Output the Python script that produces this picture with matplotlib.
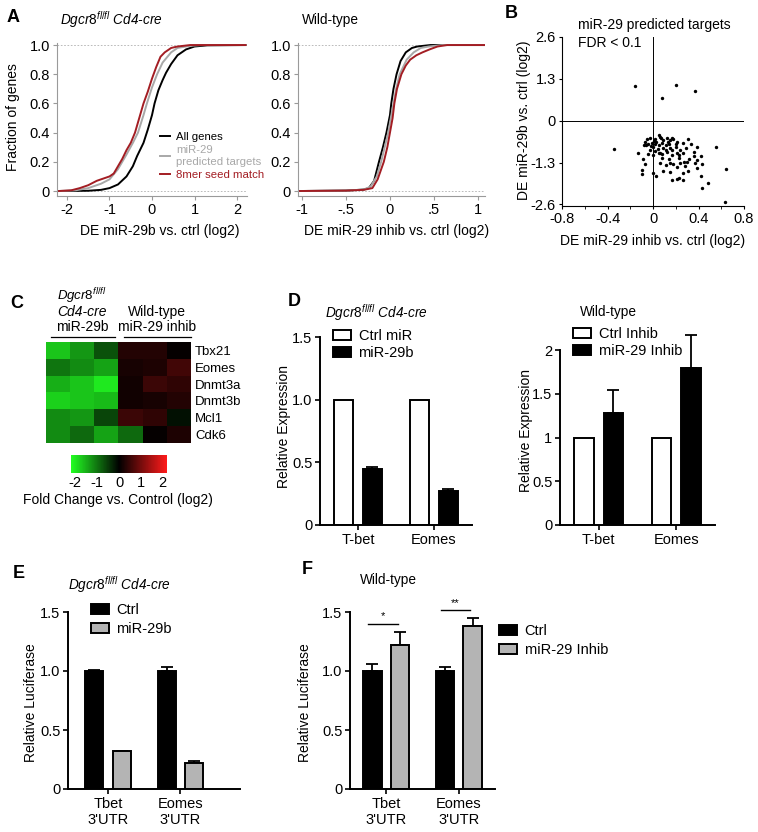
import matplotlib
matplotlib.use('Agg')
import matplotlib.pyplot as plt
import numpy as np
from matplotlib.colors import LinearSegmentedColormap
from matplotlib.patches import Patch
from matplotlib.lines import Line2D

plt.rcParams['font.family'] = ['Liberation Sans', 'DejaVu Sans']
plt.rcParams['mathtext.fontset'] = 'custom'
plt.rcParams['mathtext.rm'] = 'Liberation Sans'
plt.rcParams['mathtext.it'] = 'Liberation Sans:italic'
plt.rcParams['axes.unicode_minus'] = False

# ---- panel A: cumulative distributions ----
# Dgcr8 fl/fl Cd4-cre, miR-29b vs ctrl
a1_all_x = [-2.2, -1.5, -1.2, -1.0, -0.8, -0.6, -0.45, -0.35, -0.2, -0.1, 0.0, 0.06, 0.15, 0.25, 0.33, 0.45, 0.6, 0.8, 1.0, 1.3, 2.2]
a1_all_y = [0, 0.002, 0.008, 0.02, 0.045, 0.1, 0.17, 0.24, 0.33, 0.42, 0.52, 0.6, 0.69, 0.76, 0.81, 0.87, 0.93, 0.97, 0.99, 0.998, 1.0]
a1_tgt_x = [-2.2, -1.8, -1.5, -1.2, -1.0, -0.8, -0.6, -0.45, -0.33, -0.2, -0.12, 0.0, 0.12, 0.25, 0.45, 0.6, 0.9, 1.2, 2.2]
a1_tgt_y = [0, 0.005, 0.02, 0.05, 0.08, 0.15, 0.25, 0.33, 0.4, 0.52, 0.6, 0.71, 0.8, 0.88, 0.95, 0.98, 0.995, 1.0, 1.0]
a1_8mer_x = [-2.2, -1.9, -1.7, -1.5, -1.3, -1.1, -1.0, -0.9, -0.8, -0.7, -0.6, -0.5, -0.4, -0.3, -0.2, -0.1, 0.0, 0.1, 0.2, 0.3, 0.45, 0.6, 0.9, 2.2]
a1_8mer_y = [0, 0.005, 0.02, 0.04, 0.07, 0.09, 0.1, 0.12, 0.17, 0.22, 0.28, 0.33, 0.4, 0.5, 0.6, 0.68, 0.77, 0.85, 0.92, 0.95, 0.98, 0.99, 1.0, 1.0]

# wild-type, miR-29 inhibitor vs ctrl
a2_all_x = [-1.05, -0.5, -0.3, -0.24, -0.18, -0.125, -0.08, -0.04, 0.0, 0.015, 0.04, 0.075, 0.12, 0.18, 0.25, 0.31, 0.46, 1.08]
a2_all_y = [0, 0.003, 0.01, 0.02, 0.07, 0.2, 0.3, 0.4, 0.52, 0.6, 0.7, 0.8, 0.89, 0.95, 0.98, 0.99, 1.0, 1.0]
a2_tgt_x = [-1.05, -0.5, -0.3, -0.22, -0.15, -0.1, -0.06, -0.02, 0.01, 0.04, 0.07, 0.11, 0.19, 0.27, 0.35, 0.44, 0.6, 1.08]
a2_tgt_y = [0, 0.003, 0.01, 0.03, 0.1, 0.2, 0.3, 0.4, 0.5, 0.6, 0.7, 0.8, 0.9, 0.95, 0.98, 0.99, 1.0, 1.0]
a2_8mer_x = [-1.05, -0.5, -0.3, -0.2, -0.14, -0.07, -0.03, 0.0, 0.03, 0.05, 0.08, 0.13, 0.18, 0.23, 0.3, 0.37, 0.45, 0.54, 0.65, 1.08]
a2_8mer_y = [0, 0.003, 0.008, 0.02, 0.08, 0.2, 0.3, 0.4, 0.5, 0.6, 0.7, 0.8, 0.86, 0.9, 0.93, 0.95, 0.97, 0.99, 1.0, 1.0]

# ---- panel B: scatter of predicted targets ----
b_x = [-0.03, 0.02, 0.05, 0.06, 0.09, 0.12, 0.15, 0.18, -0.07, -0.04, -0.01, 0.03, 0.08, 0.11, 0.14, 0.17,
       0.21, 0.31, -0.06, 0.0, 0.05, 0.09, 0.15, 0.2, 0.24, 0.29, 0.33, 0.39, 0.55, -0.03, 0.02, 0.06, 0.12,
       0.21, 0.23, 0.26, 0.36, 0.42, -0.13, -0.04, 0.0, 0.08, 0.17, 0.36, 0.39, -0.09, 0.06, 0.15, 0.18,
       0.24, 0.27, 0.3, 0.37, 0.43, -0.07, 0.11, 0.09, 0.21, -0.1, -0.1, 0.0, 0.03, 0.15, 0.26, 0.31, 0.39,
       0.42, 0.64, 0.17, 0.21, 0.23, 0.26, 0.48, 0.43, 0.63, -0.34,
       0.01, 0.07, 0.13, -0.05, 0.04, 0.11, 0.2, 0.26, 0.02, 0.17, -0.02, 0.23, 0.32, 0.08, 0.28, -0.08, 0.05, 0.14,
       -0.16, 0.08, 0.2, 0.37]
b_y = [-0.53, -0.56, -0.45, -0.5, -0.59, -0.53, -0.61, -0.56, -0.66, -0.71, -0.69, -0.66, -0.69, -0.76, -0.71, -0.53,
       -0.66, -0.56, -0.76, -0.81, -0.76, -0.86, -0.86, -0.81, -0.91, -0.86, -0.73, -0.83, -0.83, -0.91, -0.93, -0.99, -0.96,
       -0.99, -1.06, -1.01, -0.96, -1.11, -1.01, -1.03, -1.06, -1.03, -1.06, -1.09, -1.23, -1.19, -1.31, -1.31, -1.36,
       -1.31, -1.29, -1.29, -1.31, -1.36, -1.36, -1.39, -1.57, -1.44, -1.54, -1.67, -1.62, -1.72, -1.6, -1.62, -1.57, -1.47,
       -1.72, -1.49, -1.84, -1.8, -1.77, -1.84, -1.94, -2.1, -2.53, -0.89,
       -0.62, -0.55, -0.65, -0.58, -0.88, -0.9, -0.72, -0.68, -0.72, -0.92, -0.8, -1.17, -1.2, -1.15, -1.42, -0.75, -1.0, -1.2,
       1.09, 0.71, 1.11, 0.93]

# ---- panel C: heatmap (log2 fold change) ----
c_genes = ['Tbx21', 'Eomes', 'Dnmt3a', 'Dnmt3b', 'Mcl1', 'Cdk6']
c_vals = [[-1.7, -1.3, -0.7, 0.3, 0.3, 0.05],
          [-1.0, -1.2, -1.4, 0.2, 0.25, 0.55],
          [-1.5, -1.7, -2.0, 0.15, 0.5, 0.4],
          [-1.8, -1.7, -1.6, 0.15, 0.2, 0.3],
          [-1.2, -1.3, -0.6, 0.5, 0.4, -0.15],
          [-1.2, -0.9, -1.4, -0.9, 0.05, 0.25]]

# ---- panel D: qPCR relative expression ----
d_genes = ['T-bet', 'Eomes']
d1_ctrl = [1.0, 1.0]
d1_mir = [0.45, 0.27]
d1_mir_err = [0.01, 0.02]
d2_ctrl = [1.0, 1.0]
d2_inh = [1.28, 1.79]
d2_inh_err = [0.26, 0.38]

# ---- panels E/F: luciferase ----
lu_labels = ["Tbet\n3'UTR", "Eomes\n3'UTR"]
e_ctrl = [1.0, 1.0]
e_ctrl_err = [0.01, 0.03]
e_mir = [0.32, 0.22]
e_mir_err = [0.005, 0.02]
f_ctrl = [1.0, 1.0]
f_ctrl_err = [0.06, 0.03]
f_inh = [1.22, 1.38]
f_inh_err = [0.11, 0.07]
f_sig = ['*', '**']
f_sig_y = [1.40, 1.515]

W, H = 758, 832
fig = plt.figure(figsize=(W / 100, H / 100), dpi=100)


def add_ax(l, t, r, b):
    return fig.add_axes([l / W, 1 - b / H, (r - l) / W, (b - t) / H])


def ftext(x, y, s, **kw):
    kw.setdefault('va', 'center')
    fig.text(x / W, 1 - y / H, s, **kw)


dgcr8 = r'$\mathit{Dgcr8^{fl/fl}}$ Cd4-cre'
RED = '#a31d23'
GRAY = '#a8a8a8'
BARGRAY = '#b4b4b4'
TICK = 10.5
LAB = 10


def style_cdf(ax):
    for s in ['top', 'right']:
        ax.spines[s].set_visible(False)
    for s in ['left', 'bottom']:
        ax.spines[s].set_color('#9a9a9a')
        ax.spines[s].set_linewidth(0.8)
    ax.axhline(0, color='#b0b0b0', lw=0.6, ls=(0, (2, 2)), zorder=0)
    ax.axhline(1, color='#b0b0b0', lw=0.6, ls=(0, (2, 2)), zorder=0)
    ax.set_ylim(-0.034, 1.014)
    ax.set_yticks([0, 0.2, 0.4, 0.6, 0.8, 1.0])
    ax.set_yticklabels(['0', '0.2', '0.4', '0.6', '0.8', '1.0'])
    ax.tick_params(direction='out', length=3, color='#9a9a9a', labelsize=TICK, pad=2)


# panel A left
ax = add_ax(57, 43, 247, 196)
style_cdf(ax)
ax.plot(a1_all_x, a1_all_y, color='black', lw=1.4, label='All genes')
ax.plot(a1_tgt_x, a1_tgt_y, color=GRAY, lw=1.4, label='miR-29\npredicted targets')
ax.plot(a1_8mer_x, a1_8mer_y, color=RED, lw=1.4, label='8mer seed match')
ax.set_xlim(-2.235, 2.235)
ax.set_xticks([-2, -1, 0, 1, 2])
leg = ax.legend(loc='upper left', bbox_to_anchor=((160 - 57) / 190, (196 - 132) / 153), frameon=False,
                fontsize=8.2, handlelength=0.9, handletextpad=0.5, borderpad=0, borderaxespad=0,
                labelspacing=0.3, labelcolor='linecolor')

# panel A right
ax = add_ax(298, 43, 485, 196)
style_cdf(ax)
ax.plot(a2_all_x, a2_all_y, color='black', lw=1.4)
ax.plot(a2_tgt_x, a2_tgt_y, color=GRAY, lw=1.4)
ax.plot(a2_8mer_x, a2_8mer_y, color=RED, lw=1.4)
ax.set_xlim(-1.045, 1.08)
ax.set_xticks([-1, -0.5, 0, 0.5, 1])
ax.set_xticklabels(['-1', '-.5', '0', '.5', '1'])

ftext(7, 18, 'A', fontsize=13, fontweight='bold')
ftext(60, 20, dgcr8, style='italic', fontsize=9.8)
ftext(302, 20, 'Wild-type', fontsize=9.8)
ftext(13, 117, 'Fraction of genes', rotation=90, ha='center', fontsize=LAB)
ftext(160, 231, 'DE miR-29b vs. ctrl (log2)', ha='center', fontsize=LAB)
ftext(397, 231, 'DE miR-29 inhib vs. ctrl (log2)', ha='center', fontsize=LAB)

# panel B
ax = add_ax(562, 37, 744, 206)
ax.scatter(b_x, b_y, s=6, color='black', linewidths=0)
ax.axhline(0, color='black', lw=0.7)
ax.axvline(0, color='black', lw=0.7)
ax.set_xlim(-0.8, 0.8)
ax.set_ylim(-2.65, 2.6)
ax.set_xticks([-0.8, -0.4, 0, 0.4, 0.8])
ax.set_xticklabels(['-0.8', '-0.4', '0', '0.4', '0.8'])
ax.set_xticks([-0.6, -0.2, 0.2, 0.6], minor=True)
ax.set_yticks([-2.6, -1.3, 0, 1.3, 2.6])
ax.set_yticklabels(['-2.6', '-1.3', '0', '1.3', '2.6'])
for s in ['top', 'right']:
    ax.spines[s].set_visible(False)
ax.tick_params(which='both', direction='out', length=2.5, labelsize=TICK, pad=2)
ftext(505, 13, 'B', fontsize=13, fontweight='bold')
ftext(578, 25, 'miR-29 predicted targets', fontsize=LAB)
ftext(578, 43, 'FDR < 0.1', fontsize=LAB)
ftext(524, 120, 'DE miR-29b vs. ctrl (log2)', rotation=90, ha='center', fontsize=LAB)
ftext(653, 241, 'DE miR-29 inhib vs. ctrl (log2)', ha='center', fontsize=LAB)

# panel C
cmap = LinearSegmentedColormap.from_list('gbr', ['#22ff22', '#000000', '#ff1a1a'])
ax = add_ax(46, 342, 191, 443)
im = ax.imshow(np.array(c_vals), cmap=cmap, vmin=-2.2, vmax=2.2, aspect='auto', interpolation='nearest')
ax.set_xticks([])
ax.yaxis.tick_right()
ax.set_yticks(range(len(c_genes)))
ax.set_yticklabels(c_genes, fontsize=9.5)
ax.tick_params(axis='y', length=0, pad=3)
for s in ax.spines.values():
    s.set_visible(False)
cax = add_ax(71, 455, 167, 473)
cb = fig.colorbar(im, cax=cax, orientation='horizontal', ticks=[-2, -1, 0, 1, 2])
cb.outline.set_visible(False)
cb.ax.tick_params(length=0, labelsize=TICK, pad=2)
ftext(118, 500, 'Fold Change vs. Control (log2)', ha='center', fontsize=LAB)
ftext(10, 303, 'C', fontsize=13, fontweight='bold')
ftext(82, 296, r'$\mathit{Dgcr8^{fl/fl}}$', ha='center', fontsize=9.5)
ftext(82, 312, 'Cd4-cre', ha='center', style='italic', fontsize=LAB)
ftext(82, 327, 'miR-29b', ha='center', fontsize=LAB)
ftext(157, 312, 'Wild-type', ha='center', fontsize=LAB)
ftext(157, 327, 'miR-29 inhib', ha='center', fontsize=LAB)
fig.add_artist(Line2D([51 / W, 115 / W], [1 - 337 / H, 1 - 337 / H], color='black', lw=0.9))
fig.add_artist(Line2D([124 / W, 191 / W], [1 - 337 / H, 1 - 337 / H], color='black', lw=0.9))


def style_bar(ax):
    for s in ['top', 'right']:
        ax.spines[s].set_visible(False)
    for s in ['left', 'bottom']:
        ax.spines[s].set_linewidth(1.4)
    ax.tick_params(direction='out', length=3.5, width=1.2, labelsize=TICK, pad=2)


def bars(ax, a, b, a_err, b_err, ca, cb_, off=0.19, w=0.25):
    x = np.arange(len(a))
    ax.bar(x - off, a, w, color=ca, edgecolor='black', lw=1.4, zorder=2)
    ax.bar(x + off, b, w, color=cb_, edgecolor='black', lw=1.4, zorder=2)
    if a_err is not None:
        ax.errorbar(x - off, a, yerr=[np.zeros(len(a)), a_err], fmt='none', ecolor='black',
                    elinewidth=1.3, capsize=4, capthick=1.3, zorder=1, clip_on=False)
    ax.errorbar(x + off, b, yerr=[np.zeros(len(b)), b_err], fmt='none', ecolor='black',
                elinewidth=1.3, capsize=4, capthick=1.3, zorder=1, clip_on=False)


def bar_legend(labels, colors, x, y, spacing):
    fig.legend(handles=[Patch(facecolor=c, edgecolor='black', lw=1.4, label=l) for l, c in zip(labels, colors)],
               loc='upper left', bbox_to_anchor=(x / W, 1 - y / H), frameon=False, fontsize=10.5,
               handlelength=1.25, handleheight=0.65, handletextpad=0.5, borderpad=0, borderaxespad=0,
               labelspacing=spacing)


# panel D left
ax = add_ax(320, 337, 472, 525)
style_bar(ax)
bars(ax, d1_ctrl, d1_mir, None, d1_mir_err, 'white', 'black')
ax.set_xlim(-0.5, 1.5)
ax.set_ylim(0, 1.5)
ax.set_yticks([0, 0.5, 1.0, 1.5])
ax.set_yticklabels(['0', '0.5', '1.0', '1.5'])
ax.set_xticks([0, 1])
ax.set_xticklabels(d_genes, fontsize=TICK)
bar_legend(['Ctrl miR', 'miR-29b'], ['white', 'black'], 333, 329, 0.2)
ftext(288, 301, 'D', fontsize=13, fontweight='bold')
ftext(325, 313, dgcr8, style='italic', fontsize=9.8)
ftext(284, 427, 'Relative Expression', rotation=90, ha='center', fontsize=LAB)

# panel D right
ax = add_ax(560, 350, 715, 525)
style_bar(ax)
bars(ax, d2_ctrl, d2_inh, None, d2_inh_err, 'white', 'black')
ax.set_xlim(-0.5, 1.5)
ax.set_ylim(0, 2)
ax.set_yticks([0, 0.5, 1, 1.5, 2])
ax.set_yticklabels(['0', '0.5', '1', '1.5', '2'])
ax.set_xticks([0, 1])
ax.set_xticklabels(d_genes, fontsize=TICK)
bar_legend(['Ctrl Inhib', 'miR-29 Inhib'], ['white', 'black'], 573, 327, 0.2)
ftext(580, 312, 'Wild-type', fontsize=9.8)
ftext(526, 430, 'Relative Expression', rotation=90, ha='center', fontsize=LAB)

# panel E
ax = add_ax(68, 612, 240, 789)
style_bar(ax)
bars(ax, e_ctrl, e_mir, e_ctrl_err, e_mir_err, 'black', BARGRAY)
ax.set_xlim(-0.55, 1.82)
ax.set_ylim(0, 1.5)
ax.set_yticks([0, 0.5, 1.0, 1.5])
ax.set_yticklabels(['0', '0.5', '1.0', '1.5'])
ax.set_xticks([0, 1])
ax.set_xticklabels(lu_labels, fontsize=TICK)
bar_legend(['Ctrl', 'miR-29b'], ['black', BARGRAY], 91, 603, 0.35)
ftext(13, 573, 'E', fontsize=13, fontweight='bold')
ftext(68, 585, dgcr8, style='italic', fontsize=9.8)
ftext(31, 703, 'Relative Luciferase', rotation=90, ha='center', fontsize=LAB)

# panel F
ax = add_ax(350, 612, 495, 789)
style_bar(ax)
bars(ax, f_ctrl, f_inh, f_ctrl_err, f_inh_err, 'black', BARGRAY)
ax.set_xlim(-0.5, 1.5)
ax.set_ylim(0, 1.5)
ax.set_yticks([0, 0.5, 1.0, 1.5])
ax.set_yticklabels(['0', '0.5', '1.0', '1.5'])
ax.set_xticks([0, 1])
ax.set_xticklabels(lu_labels, fontsize=TICK)
for i, (sig, yy) in enumerate(zip(f_sig, f_sig_y)):
    ax.plot([i - 0.25, i + 0.16], [yy, yy], color='black', lw=1, clip_on=False)
    ax.text(i - 0.05, yy + 0.02, sig, ha='center', va='bottom', fontsize=8)
bar_legend(['Ctrl', 'miR-29 Inhib'], ['black', BARGRAY], 499, 624, 0.35)
ftext(302, 570, 'F', fontsize=13, fontweight='bold')
ftext(360, 580, 'Wild-type', fontsize=9.8)
ftext(305, 703, 'Relative Luciferase', rotation=90, ha='center', fontsize=LAB)

fig.savefig('out.png', dpi=100)
